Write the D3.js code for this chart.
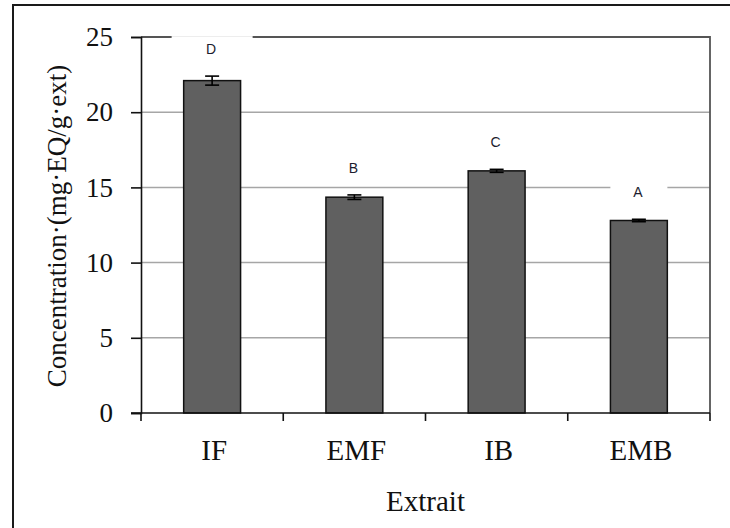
<!DOCTYPE html>
<html>
<head>
<meta charset="utf-8">
<script src="https://cdn.jsdelivr.net/npm/d3@7"></script>
<style>
  html, body { margin: 0; padding: 0; background: #fff; }
  svg { display: block; }
</style>
</head>
<body>
<svg id="chart" width="730" height="528"></svg>
<script>
// ---- data ----
const categories = ["IF", "EMF", "IB", "EMB"];
const values = [22.1, 14.35, 16.1, 12.8];
const errors = [0.3, 0.15, 0.1, 0.08];
const letters = ["D", "B", "C", "A"];
const yTicks = [0, 5, 10, 15, 20, 25];
const xTitle = "Extrait";
const yTitle = "Concentration·(mg·EQ/g·ext)";

// ---- layout ----
const W = 730, H = 528;
const plot = { left: 141, right: 710, top: 37, bottom: 413 };
const svg = d3.select("#chart");
const serif = "'Liberation Serif', 'Times New Roman', serif";

// outer frame
svg.append("rect").attr("x", 13).attr("y", 5).attr("width", W + 10).attr("height", H + 10)
  .attr("fill", "#fff").attr("stroke", "#1a1a1a").attr("stroke-width", 2);

const x = d3.scaleBand().domain(categories).range([plot.left, plot.right]).paddingInner(0).paddingOuter(0);
const y = d3.scaleLinear().domain([0, 25]).range([plot.bottom, plot.top]);

// gridlines (excluding 0 and top)
svg.append("g").selectAll("line").data(yTicks.filter(t => t > 0 && t < 25)).join("line")
  .attr("x1", plot.left).attr("x2", plot.right)
  .attr("y1", d => y(d)).attr("y2", d => y(d))
  .attr("stroke", "#a6a6a6").attr("stroke-width", 1.5);

// plot frame top & right
svg.append("path")
  .attr("d", `M${plot.left},${y(25)}H${plot.right}V${plot.bottom}`)
  .attr("fill", "none").attr("stroke", "#555").attr("stroke-width", 1.8);

// bars
const bw = x.bandwidth() * 0.4;
svg.append("g").selectAll("rect").data(categories).join("rect")
  .attr("x", d => x(d) + x.bandwidth() / 2 - bw / 2)
  .attr("width", bw)
  .attr("y", (d, i) => y(values[i]))
  .attr("height", (d, i) => y(0) - y(values[i]))
  .attr("fill", "#606060").attr("stroke", "#111").attr("stroke-width", 1.5);

// error bars
const eg = svg.append("g").attr("stroke", "#000").attr("stroke-width", 1.6);
categories.forEach((c, i) => {
  const cx = x(c) + x.bandwidth() / 2;
  const top = y(values[i] + errors[i]), bot = y(values[i] - errors[i]);
  eg.append("line").attr("x1", cx).attr("x2", cx).attr("y1", top).attr("y2", bot);
  eg.append("line").attr("x1", cx - 7).attr("x2", cx + 7).attr("y1", top).attr("y2", top);
  eg.append("line").attr("x1", cx - 7).attr("x2", cx + 7).attr("y1", bot).attr("y2", bot);
});

// significance letters with white box backgrounds
const boxW = { D: 81 };
const lg = svg.append("g");
categories.forEach((c, i) => {
  const cx = x(c) + x.bandwidth() / 2;
  const ly = y(values[i] + errors[i]) - 27;
  const w = boxW[letters[i]] || 57;
  lg.append("rect").attr("x", cx - w / 2).attr("y", ly - 13).attr("width", w).attr("height", 26)
    .attr("fill", "#fff");
  lg.append("text").attr("x", cx - 1).attr("y", ly).attr("dy", "0.35em")
    .attr("text-anchor", "middle")
    .attr("font-family", "'Liberation Sans', Arial, sans-serif").attr("font-size", 14)
    .attr("fill", "#1c1c2e").text(letters[i]);
});

// y axis
const yAxis = d3.axisLeft(y).tickValues(yTicks).tickSize(10).tickPadding(18);
const gy = svg.append("g").attr("transform", `translate(${plot.left},0)`).call(yAxis);
gy.select(".domain").attr("stroke", "#111").attr("stroke-width", 1.6);
gy.selectAll(".tick line").attr("stroke", "#111").attr("stroke-width", 1.6);
gy.selectAll(".tick text").attr("font-family", serif).attr("font-size", 27).attr("fill", "#111");

// x axis
const xAxis = d3.axisBottom(x).tickSize(0).tickPadding(0).tickFormat("");
const gx = svg.append("g").attr("transform", `translate(0,${plot.bottom})`).call(xAxis);
gx.select(".domain").attr("stroke", "#111").attr("stroke-width", 1.6)
  .attr("d", `M${plot.left - 10},0H${plot.right}`);
gx.selectAll(".tick").remove();
// boundary ticks
const bounds = categories.map(c => x(c)).concat([x.range()[1]]);
gx.selectAll("line.bt").data(bounds).join("line").attr("class", "bt")
  .attr("x1", d => d).attr("x2", d => d).attr("y1", 0).attr("y2", 8)
  .attr("stroke", "#111").attr("stroke-width", 1.6);
// category labels
svg.append("g").selectAll("text").data(categories).join("text")
  .attr("x", d => x(d) + x.bandwidth() / 2 + 2)
  .attr("y", 460)
  .attr("text-anchor", "middle")
  .attr("font-family", serif).attr("font-size", 29).attr("fill", "#111")
  .text(d => d);

// axis titles
svg.append("text").attr("x", (plot.left + plot.right) / 2).attr("y", 511)
  .attr("text-anchor", "middle").attr("font-family", serif).attr("font-size", 29)
  .attr("fill", "#111").text(xTitle);
svg.append("text")
  .attr("transform", `translate(66,${226}) rotate(-90)`)
  .attr("text-anchor", "middle").attr("font-family", serif).attr("font-size", 27)
  .attr("fill", "#111").text(yTitle);
</script>
</body>
</html>
